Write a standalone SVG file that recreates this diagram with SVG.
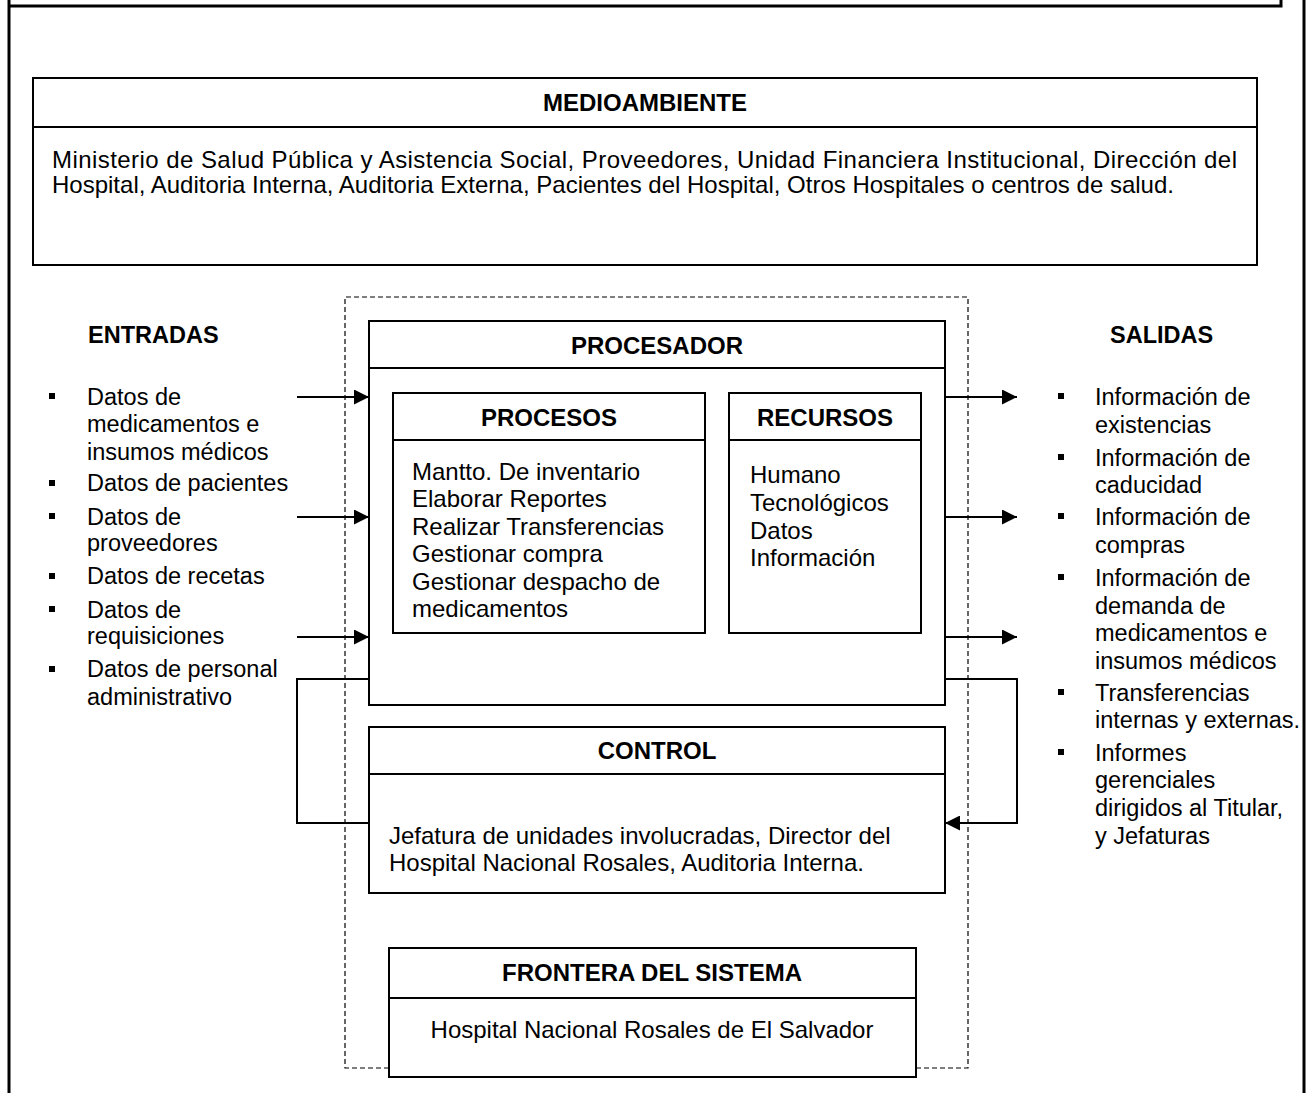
<svg xmlns="http://www.w3.org/2000/svg" width="1306" height="1093" viewBox="0 0 1306 1093">
<defs>
<marker id="ah" viewBox="0 0 10 10" refX="10" refY="5" markerWidth="16" markerHeight="15" markerUnits="userSpaceOnUse" orient="auto">
<path d="M0,0 L10,5 L0,10 z" fill="#000"/>
</marker>
<style>
.box{fill:#fff;stroke:#000;stroke-width:2}
.div{stroke:#000;stroke-width:2}
.dash{fill:none;stroke:#000;stroke-width:1.2;stroke-dasharray:5,3}
.con{fill:none;stroke:#000;stroke-width:2}
.t{font-family:"Liberation Sans",Arial,sans-serif;font-size:24px;fill:#000}
.tb{font-family:"Liberation Sans",Arial,sans-serif;font-size:24px;font-weight:bold;fill:#000;text-anchor:middle}
.r{font-family:"Liberation Sans",Arial,sans-serif;font-size:23.5px;fill:#000}
.rb{font-family:"Liberation Sans",Arial,sans-serif;font-size:23.5px;font-weight:bold;fill:#000}
.bul{fill:#000}
</style>
</defs>
<rect width="1306" height="1093" fill="#fff"/>
<g id="page">
<path d="M9,0 V1093 M9,6 H1281 V0 M1304,0 V1093" fill="none" stroke="#000" stroke-width="3"/>
</g>
<g id="medioambiente">
<rect class="box" x="33" y="78" width="1224" height="187"/>
<line class="div" x1="33" y1="127" x2="1257" y2="127"/>
<text class="tb" x="645" y="111">MEDIOAMBIENTE</text>
<text class="t" x="52" y="168" textLength="1185" lengthAdjust="spacing">Ministerio de Salud Pública y Asistencia Social, Proveedores, Unidad Financiera Institucional, Dirección del</text>
<text class="t" x="52" y="193">Hospital, Auditoria Interna, Auditoria Externa, Pacientes del Hospital, Otros Hospitales o centros de salud.</text>
</g>
<g id="frontera-boundary">
<path class="dash" d="M389,1068 H345 V297 H968 V1068 H916"/>
</g>
<g id="entradas">
<text class="rb" x="88" y="343">ENTRADAS</text>
<rect class="bul" x="49" y="393" width="6" height="6"/>
<rect class="bul" x="49" y="480" width="6" height="6"/>
<rect class="bul" x="49" y="513" width="6" height="6"/>
<rect class="bul" x="49" y="573" width="6" height="6"/>
<rect class="bul" x="49" y="606" width="6" height="6"/>
<rect class="bul" x="49" y="666" width="6" height="6"/>
<text class="r" x="87" y="405">Datos de</text>
<text class="r" x="87" y="432">medicamentos e</text>
<text class="r" x="87" y="460">insumos médicos</text>
<text class="r" x="87" y="491">Datos de pacientes</text>
<text class="r" x="87" y="525">Datos de</text>
<text class="r" x="87" y="551">proveedores</text>
<text class="r" x="87" y="584">Datos de recetas</text>
<text class="r" x="87" y="618">Datos de</text>
<text class="r" x="87" y="644">requisiciones</text>
<text class="r" x="87" y="677">Datos de personal</text>
<text class="r" x="87" y="705">administrativo</text>
</g>
<g id="salidas">
<text class="rb" x="1110" y="343">SALIDAS</text>
<rect class="bul" x="1058" y="393" width="6" height="6"/>
<rect class="bul" x="1058" y="454" width="6" height="6"/>
<rect class="bul" x="1058" y="513" width="6" height="6"/>
<rect class="bul" x="1058" y="574" width="6" height="6"/>
<rect class="bul" x="1058" y="689" width="6" height="6"/>
<rect class="bul" x="1058" y="749" width="6" height="6"/>
<text class="r" x="1095" y="405">Información de</text>
<text class="r" x="1095" y="433">existencias</text>
<text class="r" x="1095" y="466">Información de</text>
<text class="r" x="1095" y="493">caducidad</text>
<text class="r" x="1095" y="525">Información de</text>
<text class="r" x="1095" y="553">compras</text>
<text class="r" x="1095" y="586">Información de</text>
<text class="r" x="1095" y="614">demanda de</text>
<text class="r" x="1095" y="641">medicamentos e</text>
<text class="r" x="1095" y="669">insumos médicos</text>
<text class="r" x="1095" y="701">Transferencias</text>
<text class="r" x="1095" y="728">internas y externas.</text>
<text class="r" x="1095" y="761">Informes</text>
<text class="r" x="1095" y="788">gerenciales</text>
<text class="r" x="1095" y="816">dirigidos al Titular,</text>
<text class="r" x="1095" y="844">y Jefaturas</text>
</g>
<g id="procesador">
<rect class="box" x="369" y="321" width="576" height="384"/>
<line class="div" x1="369" y1="368" x2="945" y2="368"/>
<text class="tb" x="657" y="354">PROCESADOR</text>
</g>
<g id="procesos">
<rect class="box" x="393" y="393" width="312" height="240"/>
<line class="div" x1="393" y1="440" x2="705" y2="440"/>
<text class="tb" x="549" y="426">PROCESOS</text>
<text class="t" x="412" y="480">Mantto. De inventario</text>
<text class="t" x="412" y="507">Elaborar Reportes</text>
<text class="t" x="412" y="535">Realizar Transferencias</text>
<text class="t" x="412" y="562">Gestionar compra</text>
<text class="t" x="412" y="590">Gestionar despacho de</text>
<text class="t" x="412" y="617">medicamentos</text>
</g>
<g id="recursos">
<rect class="box" x="729" y="393" width="192" height="240"/>
<line class="div" x1="729" y1="440" x2="921" y2="440"/>
<text class="tb" x="825" y="426">RECURSOS</text>
<text class="t" x="750" y="483">Humano</text>
<text class="t" x="750" y="511">Tecnológicos</text>
<text class="t" x="750" y="539">Datos</text>
<text class="t" x="750" y="566">Información</text>
</g>
<g id="control">
<rect class="box" x="369" y="727" width="576" height="166"/>
<line class="div" x1="369" y1="774" x2="945" y2="774"/>
<text class="tb" x="657" y="759">CONTROL</text>
<text class="t" x="389" y="844">Jefatura de unidades involucradas, Director del</text>
<text class="t" x="389" y="871">Hospital Nacional Rosales, Auditoria Interna.</text>
</g>
<g id="frontera">
<rect class="box" x="389" y="948" width="527" height="129"/>
<line class="div" x1="389" y1="998" x2="916" y2="998"/>
<text class="tb" x="652" y="981">FRONTERA DEL SISTEMA</text>
<text class="t" x="652" y="1038" text-anchor="middle">Hospital Nacional Rosales de El Salvador</text>
</g>
<g id="connectors">
<line class="con" x1="297" y1="397" x2="369" y2="397" marker-end="url(#ah)"/>
<line class="con" x1="297" y1="517" x2="369" y2="517" marker-end="url(#ah)"/>
<line class="con" x1="297" y1="637" x2="369" y2="637" marker-end="url(#ah)"/>
<line class="con" x1="945" y1="397" x2="1017" y2="397" marker-end="url(#ah)"/>
<line class="con" x1="945" y1="517" x2="1017" y2="517" marker-end="url(#ah)"/>
<line class="con" x1="945" y1="637" x2="1017" y2="637" marker-end="url(#ah)"/>
<path class="con" d="M369,679 H297 V823 H369"/>
<path class="con" d="M945,679 H1017 V823 H945" marker-end="url(#ah)"/>
</g>
</svg>
